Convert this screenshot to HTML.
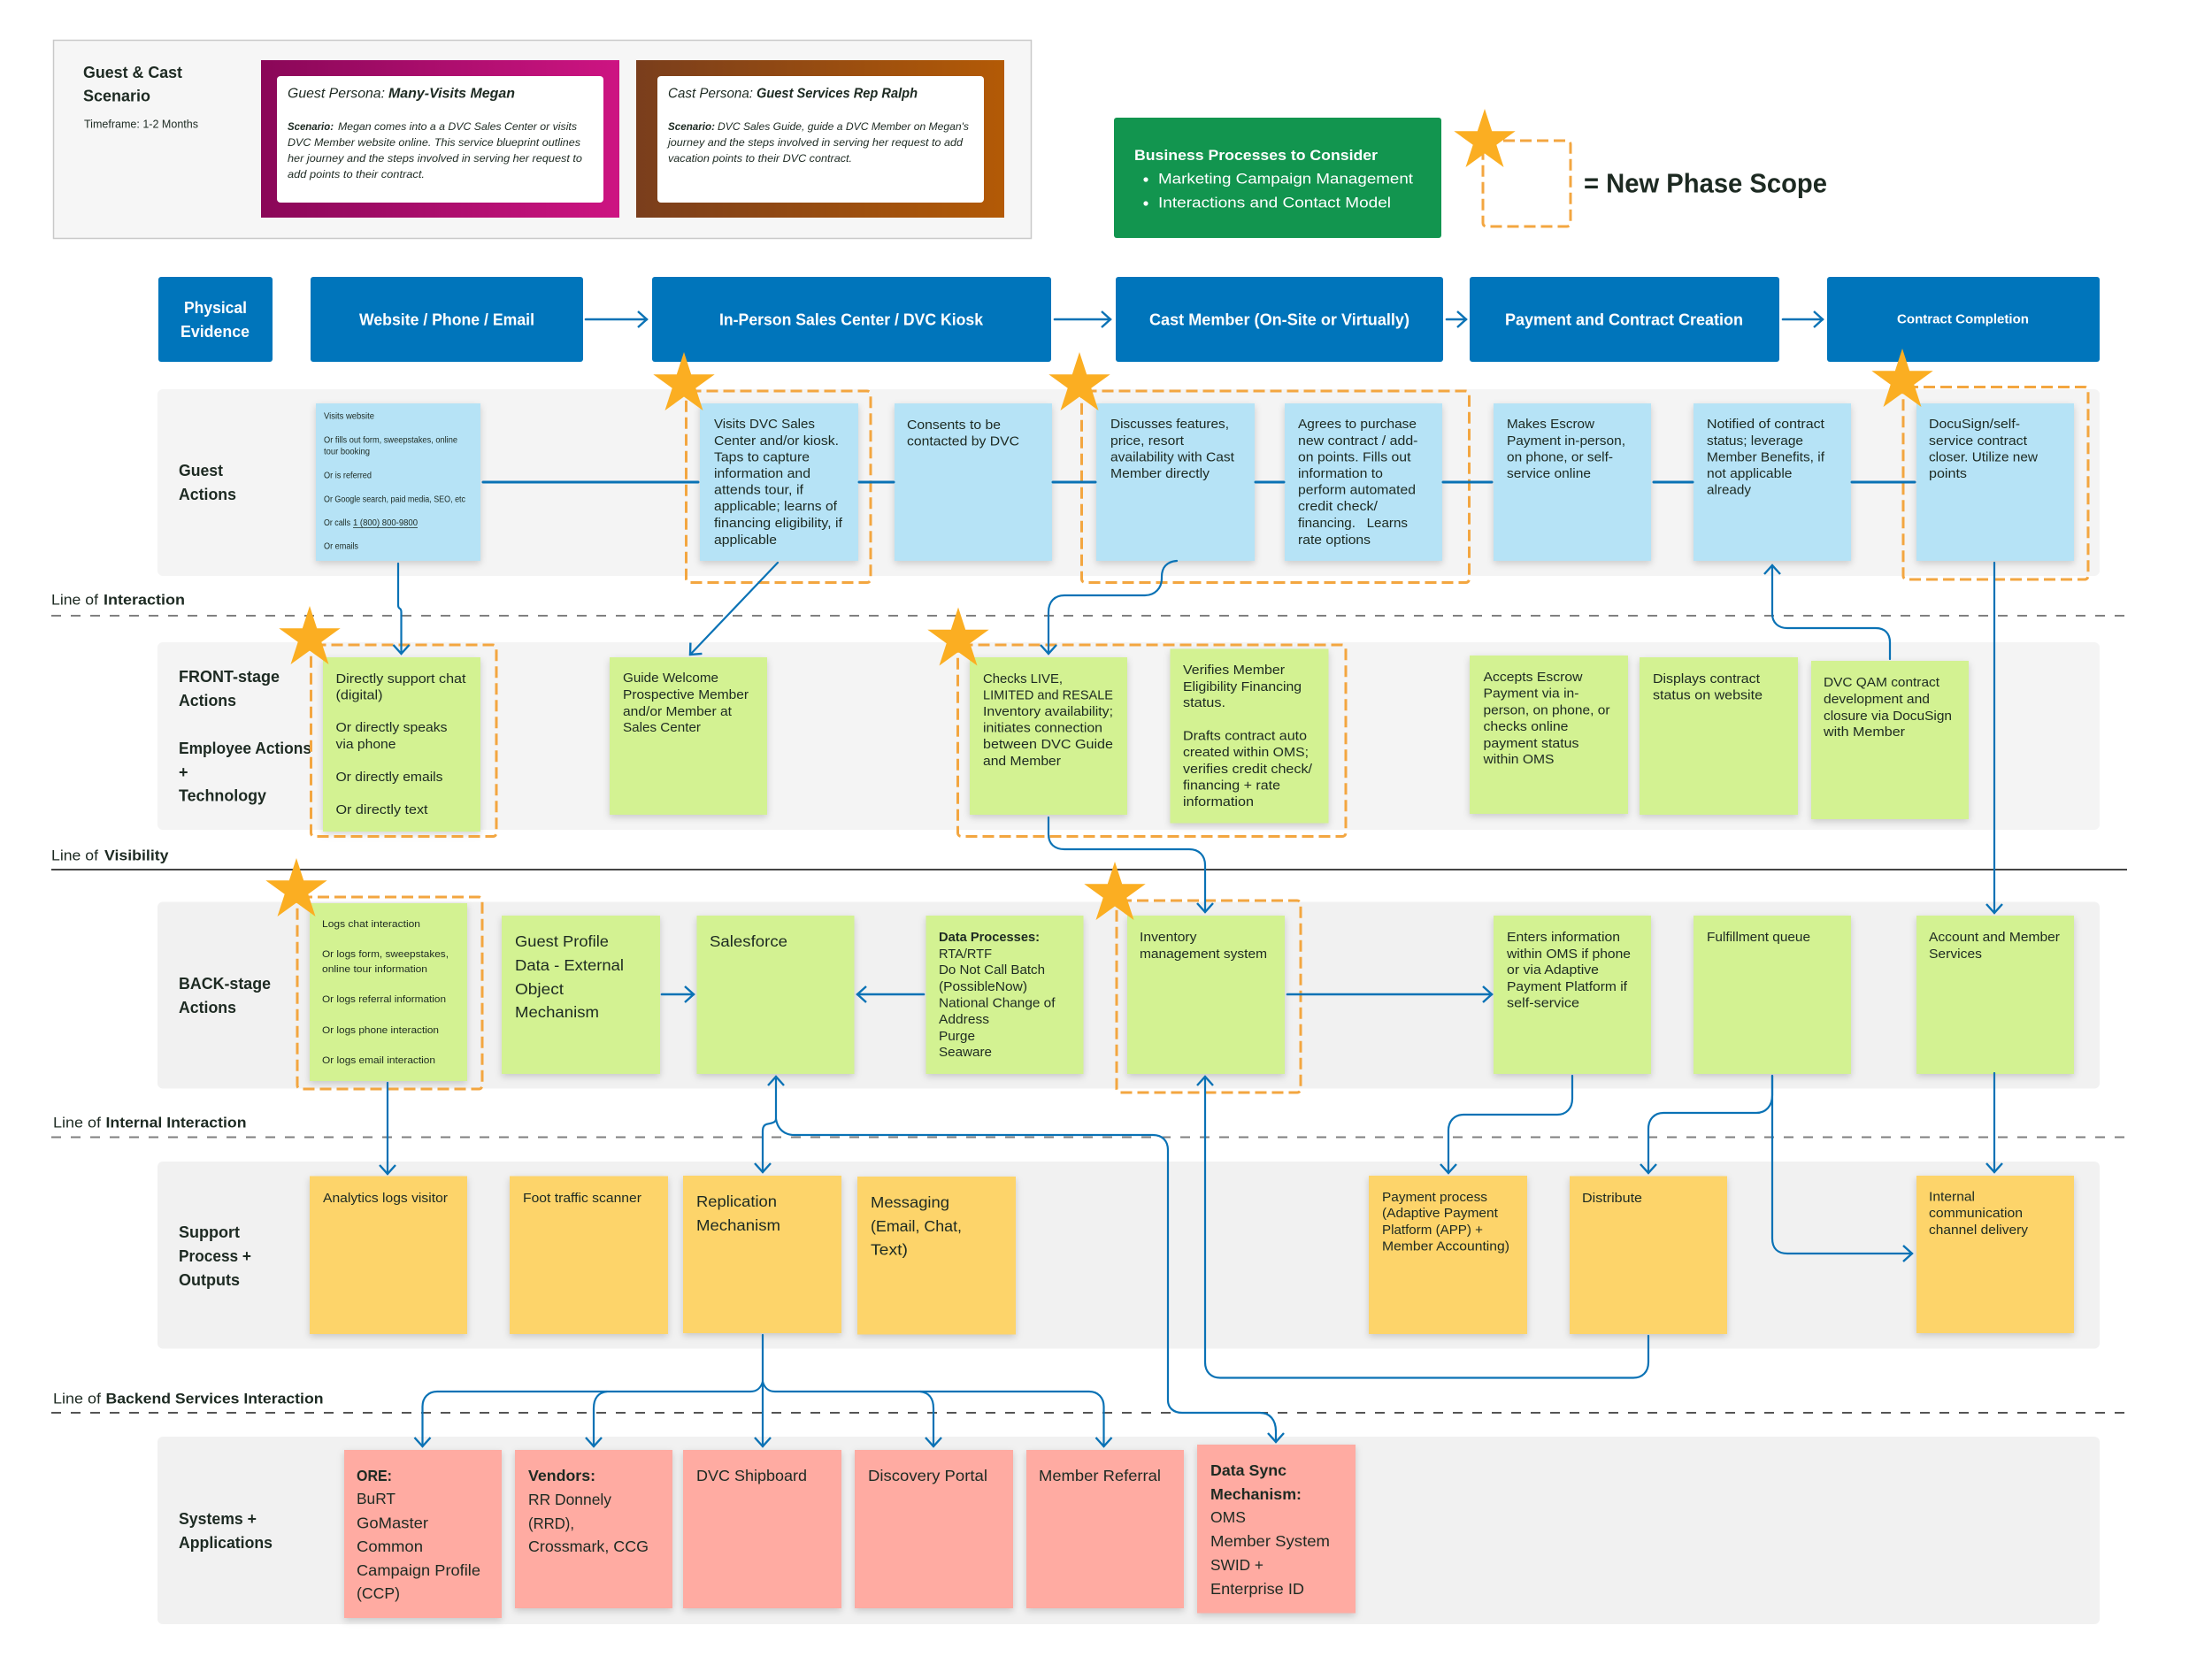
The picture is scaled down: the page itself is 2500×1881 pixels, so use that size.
<!DOCTYPE html>
<html><head><meta charset="utf-8"><title>Service Blueprint</title>
<style>
html,body{margin:0;padding:0;background:#fff}
svg{display:block}
text{font-family:"Liberation Sans",sans-serif;dominant-baseline:central;fill:#1d2a22}
.b{font-weight:700}
.w text{fill:#fff}
.s{filter:drop-shadow(0 3px 4px rgba(0,0,0,.17))}
.c path{fill:none;stroke:#0a72b5;stroke-width:2.2;stroke-linecap:round}
.d{fill:none;stroke:#f3a640;stroke-width:3;stroke-dasharray:13 6}
.g{stroke:#808080;stroke-width:2;stroke-dasharray:11 11}
</style></head><body>
<svg xmlns="http://www.w3.org/2000/svg" width="2500" height="1881" viewBox="0 0 2500 1881" lengthAdjust="spacingAndGlyphs">
<defs>
<linearGradient id="p1" x1="0" x2="1" y1="0" y2="0"><stop offset="0" stop-color="#8a0758"/><stop offset="1" stop-color="#cd1482"/></linearGradient>
<linearGradient id="p2" x1="0" x2="1" y1="0" y2="0"><stop offset="0" stop-color="#7a3e1c"/><stop offset="1" stop-color="#b35a06"/></linearGradient>
<marker id="a" markerUnits="userSpaceOnUse" markerWidth="24" markerHeight="24" refX="12" refY="12" orient="auto" overflow="visible"><path d="M2,3 L12,12 L2,21" fill="none" stroke="#0a72b5" stroke-width="2.4"/></marker>
<polygon id="star" fill="#fbae22" points="0,-36.5 8.2,-11.3 34.7,-11.3 13.3,4.3 21.5,29.5 0,14 -21.5,29.5 -13.3,4.3 -34.7,-11.3 -8.2,-11.3"/>
</defs>

<!-- top panel -->
<rect x="60.5" y="45.5" width="1105" height="224" fill="#f6f6f6" stroke="#c9c9c9" stroke-width="1.5"/>
<g font-size="18" class="b">
<text class="b" x="94" y="82" textLength="112" lengthAdjust="spacingAndGlyphs">Guest &amp; Cast</text>
<text class="b" x="94" y="108.5" textLength="76" lengthAdjust="spacingAndGlyphs">Scenario</text>
</g>
<text x="95" y="140" font-size="13" textLength="129" lengthAdjust="spacingAndGlyphs">Timeframe: 1-2 Months</text>
<rect x="295" y="68" width="405" height="178" fill="url(#p1)"/>
<rect x="313" y="86" width="369" height="143" rx="4" fill="#fff"/>
<rect x="719" y="68" width="416" height="178" fill="url(#p2)"/>
<rect x="743" y="86" width="369" height="143" rx="4" fill="#fff"/>
<g font-style="italic" font-size="16">
<text x="325" y="106" textLength="110" lengthAdjust="spacingAndGlyphs" fill="#333">Guest Persona:</text>
<text class="b" x="439" y="106" textLength="143" lengthAdjust="spacingAndGlyphs">Many-Visits Megan</text>
<text x="755" y="106" textLength="96" lengthAdjust="spacingAndGlyphs" fill="#333">Cast Persona:</text>
<text class="b" x="855" y="106" textLength="182" lengthAdjust="spacingAndGlyphs">Guest Services Rep Ralph</text>
</g>
<g font-style="italic" font-size="12">
<text class="b" x="325" y="143" textLength="52" lengthAdjust="spacingAndGlyphs">Scenario:</text>
<text x="382" y="143" textLength="270" lengthAdjust="spacingAndGlyphs">Megan comes into a a DVC Sales Center or visits</text>
<text x="325" y="161" textLength="331" lengthAdjust="spacingAndGlyphs">DVC Member website online. This service blueprint outlines</text>
<text x="325" y="179" textLength="333" lengthAdjust="spacingAndGlyphs">her journey and the steps involved  in serving her request to</text>
<text x="325" y="197" textLength="155" lengthAdjust="spacingAndGlyphs">add points to their contract.</text>
<text class="b" x="755" y="143" textLength="53" lengthAdjust="spacingAndGlyphs">Scenario:</text>
<text x="811" y="143" textLength="284" lengthAdjust="spacingAndGlyphs">DVC Sales Guide, guide a DVC Member on Megan's</text>
<text x="755" y="161" textLength="333" lengthAdjust="spacingAndGlyphs">journey and the steps involved in serving her request to add</text>
<text x="755" y="179" textLength="208" lengthAdjust="spacingAndGlyphs">vacation points to their DVC contract.</text>
</g>

<!-- business processes -->
<rect x="1259" y="133" width="370" height="136" rx="3" fill="#12954f"/>
<g class="w" font-size="17">
<text class="b" x="1282" y="175.5" textLength="275" lengthAdjust="spacingAndGlyphs">Business Processes to Consider</text>
<text x="1309" y="202" textLength="288" lengthAdjust="spacingAndGlyphs">Marketing Campaign Management</text>
<text x="1309" y="229" textLength="263" lengthAdjust="spacingAndGlyphs">Interactions and Contact Model</text>
</g>
<circle cx="1295" cy="203" r="2.6" fill="#fff"/><circle cx="1295" cy="230" r="2.6" fill="#fff"/>
<rect class="d" x="1676" y="159" width="99" height="97" rx="4"/>
<use href="#star" x="1678" y="159.5"/>
<text class="b" x="1790" y="207" font-size="31" textLength="275" lengthAdjust="spacingAndGlyphs" fill="#1a1a1a">= New Phase Scope</text>

<!-- header boxes -->
<g fill="#0075bb">
<rect x="179" y="313" width="129" height="96" rx="3"/>
<rect x="351" y="313" width="308" height="96" rx="3"/>
<rect x="737" y="313" width="451" height="96" rx="3"/>
<rect x="1261" y="313" width="370" height="96" rx="3"/>
<rect x="1661" y="313" width="350" height="96" rx="3"/>
<rect x="2065" y="313" width="308" height="96" rx="3"/>
</g>
<g class="w" font-size="18">
<text class="b" x="208" y="348" textLength="71" lengthAdjust="spacingAndGlyphs">Physical</text>
<text class="b" x="204" y="375" textLength="78" lengthAdjust="spacingAndGlyphs">Evidence</text>
<text class="b" x="406" y="361.5" textLength="198" lengthAdjust="spacingAndGlyphs">Website / Phone / Email</text>
<text class="b" x="813" y="361.5" textLength="298" lengthAdjust="spacingAndGlyphs">In-Person Sales Center / DVC Kiosk</text>
<text class="b" x="1299" y="361.5" textLength="294" lengthAdjust="spacingAndGlyphs">Cast Member (On-Site or Virtually)</text>
<text class="b" x="1701" y="361.5" textLength="269" lengthAdjust="spacingAndGlyphs">Payment and Contract Creation</text>
<text class="b" x="2144" y="361.5" font-size="14.5" textLength="149" lengthAdjust="spacingAndGlyphs">Contract Completion</text>
</g>

<!-- bands -->
<g fill="#f4f4f4">
<rect x="178" y="440" width="2195" height="211" rx="6"/>
<rect x="178" y="726" width="2195" height="212" rx="6"/>
</g>
<g fill="#f1f1f1">
<rect x="178" y="1019.5" width="2195" height="211" rx="6"/>
<rect x="178" y="1313" width="2195" height="211.5" rx="6"/>
<rect x="178" y="1624" width="2195" height="212" rx="6"/>
</g>

<!-- lines -->
<line class="g" x1="58" x2="2404" y1="696" y2="696"/>
<line x1="58" x2="2404" y1="983" y2="983" stroke="#444" stroke-width="2"/>
<line class="g" x1="58" x2="2404" y1="1285.5" y2="1285.5"/>
<line class="g" x1="58" x2="2404" y1="1597" y2="1597" style="stroke:#555"/>
<g font-size="17">
<text x="58" y="678" textLength="53" lengthAdjust="spacingAndGlyphs" fill="#333">Line of</text>
<text class="b" x="117" y="678" textLength="92" lengthAdjust="spacingAndGlyphs">Interaction</text>
<text x="58" y="967" textLength="53" lengthAdjust="spacingAndGlyphs" fill="#333">Line of</text>
<text class="b" x="118" y="967" textLength="72.5" lengthAdjust="spacingAndGlyphs">Visibility</text>
<text x="60" y="1269" textLength="54" lengthAdjust="spacingAndGlyphs" fill="#333">Line of</text>
<text class="b" x="119.5" y="1269" textLength="159" lengthAdjust="spacingAndGlyphs">Internal Interaction</text>
<text x="60" y="1581" textLength="54" lengthAdjust="spacingAndGlyphs" fill="#333">Line of</text>
<text class="b" x="119.5" y="1581" textLength="246" lengthAdjust="spacingAndGlyphs">Backend Services Interaction</text>
</g>

<!-- row labels -->
<g font-size="18">
<text class="b" x="202" y="532" textLength="50" lengthAdjust="spacingAndGlyphs">Guest</text>
<text class="b" x="202" y="559" textLength="65" lengthAdjust="spacingAndGlyphs">Actions</text>
<text class="b" x="202" y="765" textLength="114" lengthAdjust="spacingAndGlyphs">FRONT-stage</text>
<text class="b" x="202" y="792" textLength="65" lengthAdjust="spacingAndGlyphs">Actions</text>
<text class="b" x="202" y="846" textLength="150" lengthAdjust="spacingAndGlyphs">Employee Actions</text>
<text class="b" x="202" y="873">+</text>
<text class="b" x="202" y="899.5" textLength="99" lengthAdjust="spacingAndGlyphs">Technology</text>
<text class="b" x="202" y="1112" textLength="104" lengthAdjust="spacingAndGlyphs">BACK-stage</text>
<text class="b" x="202" y="1139" textLength="65" lengthAdjust="spacingAndGlyphs">Actions</text>
<text class="b" x="202" y="1393" textLength="69" lengthAdjust="spacingAndGlyphs">Support</text>
<text class="b" x="202" y="1420" textLength="82" lengthAdjust="spacingAndGlyphs">Process +</text>
<text class="b" x="202" y="1447" textLength="69" lengthAdjust="spacingAndGlyphs">Outputs</text>
<text class="b" x="202" y="1717" textLength="88" lengthAdjust="spacingAndGlyphs">Systems +</text>
<text class="b" x="202" y="1744" textLength="106" lengthAdjust="spacingAndGlyphs">Applications</text>
</g>

<!-- stickies -->
<g class="s" fill="#b6e3f6">
<rect x="357" y="456" width="186" height="178"/>
<rect x="791" y="456" width="179" height="178"/>
<rect x="1011" y="456" width="178" height="178"/>
<rect x="1239" y="456" width="179" height="178"/>
<rect x="1452" y="456" width="178" height="178"/>
<rect x="1688" y="456" width="178" height="178"/>
<rect x="1914" y="456" width="178" height="178"/>
<rect x="2166" y="456" width="178" height="178"/>
</g>
<g class="s" fill="#d3f292">
<rect x="365" y="743" width="178" height="197"/>
<rect x="689" y="743" width="178" height="178"/>
<rect x="1096" y="743" width="178" height="178"/>
<rect x="1322.5" y="733.5" width="179" height="197"/>
<rect x="1661" y="741" width="179" height="179"/>
<rect x="1853" y="743" width="179" height="178"/>
<rect x="2047" y="747" width="178" height="179"/>
<rect x="350" y="1021" width="178" height="201"/>
<rect x="567" y="1035" width="179" height="179"/>
<rect x="787.5" y="1035" width="178" height="179"/>
<rect x="1046.5" y="1035" width="178" height="179"/>
<rect x="1274" y="1035" width="178" height="179"/>
<rect x="1688" y="1035" width="178" height="179"/>
<rect x="1914" y="1035" width="178" height="179"/>
<rect x="2166" y="1035" width="178" height="179"/>
</g>
<g class="s" fill="#fdd46a">
<rect x="350" y="1329.5" width="178" height="178.5"/>
<rect x="576" y="1329.5" width="179" height="178.5"/>
<rect x="772" y="1329" width="179" height="178"/>
<rect x="969" y="1330" width="179" height="178.5"/>
<rect x="1547" y="1329" width="179" height="179"/>
<rect x="1774" y="1329.5" width="178" height="178.5"/>
<rect x="2166" y="1329" width="178" height="178"/>
</g>
<g class="s" fill="#ffaba2">
<rect x="389" y="1639" width="178" height="190"/>
<rect x="582" y="1639" width="178" height="179"/>
<rect x="772" y="1639" width="179" height="179"/>
<rect x="966" y="1639" width="179" height="179"/>
<rect x="1160" y="1639" width="178" height="179"/>
<rect x="1353" y="1633" width="179" height="190.5"/>
</g>

<!-- sticky text: small -->
<g font-size="10">
<text x="366" y="471" textLength="57" lengthAdjust="spacingAndGlyphs">Visits website</text>
<text x="366" y="498" textLength="151" lengthAdjust="spacingAndGlyphs">Or fills out form, sweepstakes, online</text>
<text x="366" y="511" textLength="52" lengthAdjust="spacingAndGlyphs">tour booking</text>
<text x="366" y="538" textLength="54" lengthAdjust="spacingAndGlyphs">Or is referred</text>
<text x="366" y="565" textLength="160" lengthAdjust="spacingAndGlyphs">Or Google search, paid media, SEO, etc</text>
<text x="366" y="591.5" textLength="30" lengthAdjust="spacingAndGlyphs">Or calls</text>
<text x="399" y="591.5" textLength="73" lengthAdjust="spacingAndGlyphs">1 (800) 800-9800</text>
<text x="366" y="618" textLength="39" lengthAdjust="spacingAndGlyphs">Or emails</text>
</g>
<line x1="399" x2="472" y1="596.5" y2="596.5" stroke="#1d2a22" stroke-width=".8"/>
<g font-size="11">
<text x="364" y="1045" textLength="111" lengthAdjust="spacingAndGlyphs">Logs chat interaction</text>
<text x="364" y="1079" textLength="143" lengthAdjust="spacingAndGlyphs">Or logs form, sweepstakes,</text>
<text x="364" y="1096" textLength="119" lengthAdjust="spacingAndGlyphs">online tour information</text>
<text x="364" y="1130" textLength="140" lengthAdjust="spacingAndGlyphs">Or logs referral information</text>
<text x="364" y="1165" textLength="132" lengthAdjust="spacingAndGlyphs">Or logs phone interaction</text>
<text x="364" y="1199" textLength="128" lengthAdjust="spacingAndGlyphs">Or logs email interaction</text>
</g>

<!-- sticky text: regular -->
<g font-size="14.5">
<text x="807" y="480" textLength="114" lengthAdjust="spacingAndGlyphs">Visits DVC Sales</text>
<text x="807" y="499" textLength="141" lengthAdjust="spacingAndGlyphs">Center and/or kiosk.</text>
<text x="807" y="517.5" textLength="108" lengthAdjust="spacingAndGlyphs">Taps to capture</text>
<text x="807" y="536" textLength="109" lengthAdjust="spacingAndGlyphs">information and</text>
<text x="807" y="554.5" textLength="101" lengthAdjust="spacingAndGlyphs">attends tour, if</text>
<text x="807" y="573" textLength="139" lengthAdjust="spacingAndGlyphs">applicable; learns of</text>
<text x="807" y="592" textLength="145" lengthAdjust="spacingAndGlyphs">financing eligibility, if</text>
<text x="807" y="611" textLength="71" lengthAdjust="spacingAndGlyphs">applicable</text>

<text x="1025" y="481" textLength="106" lengthAdjust="spacingAndGlyphs">Consents to be</text>
<text x="1025" y="499.5" textLength="127" lengthAdjust="spacingAndGlyphs">contacted by DVC</text>

<text x="1255" y="480" textLength="134" lengthAdjust="spacingAndGlyphs">Discusses features,</text>
<text x="1255" y="499" textLength="83" lengthAdjust="spacingAndGlyphs">price, resort</text>
<text x="1255" y="517.5" textLength="140" lengthAdjust="spacingAndGlyphs">availability with Cast</text>
<text x="1255" y="536" textLength="112" lengthAdjust="spacingAndGlyphs">Member directly</text>

<text x="1467" y="480" textLength="134" lengthAdjust="spacingAndGlyphs">Agrees to purchase</text>
<text x="1467" y="499" textLength="135.5" lengthAdjust="spacingAndGlyphs">new contract / add-</text>
<text x="1467" y="517.5" textLength="127.5" lengthAdjust="spacingAndGlyphs">on points.  Fills out</text>
<text x="1467" y="536" textLength="96" lengthAdjust="spacingAndGlyphs">information to</text>
<text x="1467" y="554.5" textLength="133" lengthAdjust="spacingAndGlyphs">perform automated</text>
<text x="1467" y="573" textLength="90" lengthAdjust="spacingAndGlyphs">credit check/</text>
<text x="1467" y="592" textLength="124" lengthAdjust="spacingAndGlyphs" xml:space="preserve">financing.   Learns</text>
<text x="1467" y="611" textLength="82" lengthAdjust="spacingAndGlyphs">rate options</text>

<text x="1703" y="480" textLength="99" lengthAdjust="spacingAndGlyphs">Makes Escrow</text>
<text x="1703" y="499" textLength="134" lengthAdjust="spacingAndGlyphs">Payment in-person,</text>
<text x="1703" y="517.5" textLength="120" lengthAdjust="spacingAndGlyphs">on phone, or self-</text>
<text x="1703" y="536" textLength="95" lengthAdjust="spacingAndGlyphs">service online</text>

<text x="1929" y="480" textLength="133" lengthAdjust="spacingAndGlyphs">Notified of contract</text>
<text x="1929" y="499" textLength="109" lengthAdjust="spacingAndGlyphs">status; leverage</text>
<text x="1929" y="517.5" textLength="133" lengthAdjust="spacingAndGlyphs">Member Benefits, if</text>
<text x="1929" y="536" textLength="96.5" lengthAdjust="spacingAndGlyphs">not applicable</text>
<text x="1929" y="554.5" textLength="50" lengthAdjust="spacingAndGlyphs">already</text>

<text x="2180" y="480" textLength="103" lengthAdjust="spacingAndGlyphs">DocuSign/self-</text>
<text x="2180" y="499" textLength="111" lengthAdjust="spacingAndGlyphs">service contract</text>
<text x="2180" y="517.5" textLength="123" lengthAdjust="spacingAndGlyphs">closer. Utilize new</text>
<text x="2180" y="536" textLength="43" lengthAdjust="spacingAndGlyphs">points</text>

<text x="379.5" y="768" textLength="147" lengthAdjust="spacingAndGlyphs">Directly support chat</text>
<text x="379.5" y="786.5" textLength="53" lengthAdjust="spacingAndGlyphs">(digital)</text>
<text x="379.5" y="823" textLength="126" lengthAdjust="spacingAndGlyphs">Or directly speaks</text>
<text x="379.5" y="842" textLength="68" lengthAdjust="spacingAndGlyphs">via phone</text>
<text x="379.5" y="879" textLength="121" lengthAdjust="spacingAndGlyphs">Or directly emails</text>
<text x="379.5" y="916" textLength="104" lengthAdjust="spacingAndGlyphs">Or directly text</text>

<text x="704" y="767" textLength="108" lengthAdjust="spacingAndGlyphs">Guide Welcome</text>
<text x="704" y="786" textLength="142" lengthAdjust="spacingAndGlyphs">Prospective Member</text>
<text x="704" y="805" textLength="123" lengthAdjust="spacingAndGlyphs">and/or Member at</text>
<text x="704" y="823" textLength="88" lengthAdjust="spacingAndGlyphs">Sales Center</text>

<text x="1111" y="768" textLength="90" lengthAdjust="spacingAndGlyphs">Checks LIVE,</text>
<text x="1111" y="786.5" textLength="147" lengthAdjust="spacingAndGlyphs">LIMITED and RESALE</text>
<text x="1111" y="805" textLength="147" lengthAdjust="spacingAndGlyphs">Inventory availability;</text>
<text x="1111" y="823.6" textLength="135" lengthAdjust="spacingAndGlyphs">initiates connection</text>
<text x="1111" y="842" textLength="147" lengthAdjust="spacingAndGlyphs">between DVC Guide</text>
<text x="1111" y="861" textLength="88" lengthAdjust="spacingAndGlyphs">and Member</text>

<text x="1337" y="758" textLength="115" lengthAdjust="spacingAndGlyphs">Verifies Member</text>
<text x="1337" y="777" textLength="134" lengthAdjust="spacingAndGlyphs">Eligibility Financing</text>
<text x="1337" y="795" textLength="48" lengthAdjust="spacingAndGlyphs">status.</text>
<text x="1337" y="832.6" textLength="140" lengthAdjust="spacingAndGlyphs">Drafts contract auto</text>
<text x="1337" y="851" textLength="142" lengthAdjust="spacingAndGlyphs">created within OMS;</text>
<text x="1337" y="870" textLength="146" lengthAdjust="spacingAndGlyphs">verifies credit check/</text>
<text x="1337" y="888.5" textLength="110" lengthAdjust="spacingAndGlyphs">financing + rate</text>
<text x="1337" y="907" textLength="80" lengthAdjust="spacingAndGlyphs">information</text>

<text x="1676.5" y="766" textLength="112" lengthAdjust="spacingAndGlyphs">Accepts Escrow</text>
<text x="1676.5" y="784.5" textLength="108" lengthAdjust="spacingAndGlyphs">Payment via in-</text>
<text x="1676.5" y="803.6" textLength="143" lengthAdjust="spacingAndGlyphs">person, on phone, or</text>
<text x="1676.5" y="822" textLength="96" lengthAdjust="spacingAndGlyphs">checks online</text>
<text x="1676.5" y="841" textLength="108" lengthAdjust="spacingAndGlyphs">payment status</text>
<text x="1676.5" y="859" textLength="80" lengthAdjust="spacingAndGlyphs">within OMS</text>

<text x="1868" y="768" textLength="121" lengthAdjust="spacingAndGlyphs">Displays contract</text>
<text x="1868" y="786.5" textLength="124" lengthAdjust="spacingAndGlyphs">status on website</text>

<text x="2061" y="772" textLength="131" lengthAdjust="spacingAndGlyphs">DVC QAM contract</text>
<text x="2061" y="791" textLength="120" lengthAdjust="spacingAndGlyphs">development and</text>
<text x="2061" y="810" textLength="145" lengthAdjust="spacingAndGlyphs">closure via DocuSign</text>
<text x="2061" y="828" textLength="92" lengthAdjust="spacingAndGlyphs">with Member</text>

<text class="b" x="1061" y="1060" textLength="114" lengthAdjust="spacingAndGlyphs">Data Processes:</text>
<text x="1061" y="1079" textLength="60" lengthAdjust="spacingAndGlyphs">RTA/RTF</text>
<text x="1061" y="1097" textLength="120" lengthAdjust="spacingAndGlyphs">Do Not Call Batch</text>
<text x="1061" y="1116" textLength="100" lengthAdjust="spacingAndGlyphs">(PossibleNow)</text>
<text x="1061" y="1134.5" textLength="131.5" lengthAdjust="spacingAndGlyphs">National Change of</text>
<text x="1061" y="1153" textLength="57" lengthAdjust="spacingAndGlyphs">Address</text>
<text x="1061" y="1172" textLength="41" lengthAdjust="spacingAndGlyphs">Purge</text>
<text x="1061" y="1190" textLength="60" lengthAdjust="spacingAndGlyphs">Seaware</text>

<text x="1288" y="1060" textLength="64.5" lengthAdjust="spacingAndGlyphs">Inventory</text>
<text x="1288" y="1079" textLength="144" lengthAdjust="spacingAndGlyphs">management system</text>

<text x="1703" y="1060" textLength="128" lengthAdjust="spacingAndGlyphs">Enters information</text>
<text x="1703" y="1079" textLength="140" lengthAdjust="spacingAndGlyphs">within OMS if phone</text>
<text x="1703" y="1097" textLength="104" lengthAdjust="spacingAndGlyphs">or via Adaptive</text>
<text x="1703" y="1116" textLength="136" lengthAdjust="spacingAndGlyphs">Payment Platform if</text>
<text x="1703" y="1134.5" textLength="82" lengthAdjust="spacingAndGlyphs">self-service</text>

<text x="1929" y="1060" textLength="117" lengthAdjust="spacingAndGlyphs">Fulfillment queue</text>

<text x="2180" y="1060" textLength="148" lengthAdjust="spacingAndGlyphs">Account and Member</text>
<text x="2180" y="1079" textLength="60" lengthAdjust="spacingAndGlyphs">Services</text>

<text x="365" y="1355" textLength="141" lengthAdjust="spacingAndGlyphs">Analytics logs visitor</text>
<text x="591" y="1355" textLength="134" lengthAdjust="spacingAndGlyphs">Foot traffic scanner</text>

<text x="1562" y="1354" textLength="119" lengthAdjust="spacingAndGlyphs">Payment process</text>
<text x="1562" y="1372" textLength="131" lengthAdjust="spacingAndGlyphs">(Adaptive Payment</text>
<text x="1562" y="1391" textLength="114" lengthAdjust="spacingAndGlyphs">Platform (APP) +</text>
<text x="1562" y="1409.6" textLength="144" lengthAdjust="spacingAndGlyphs">Member Accounting)</text>

<text x="1788" y="1355" textLength="68" lengthAdjust="spacingAndGlyphs">Distribute</text>

<text x="2180" y="1353.6" textLength="52" lengthAdjust="spacingAndGlyphs">Internal</text>
<text x="2180" y="1372" textLength="106" lengthAdjust="spacingAndGlyphs">communication</text>
<text x="2180" y="1391" textLength="112" lengthAdjust="spacingAndGlyphs">channel delivery</text>
</g>

<!-- sticky text: large -->
<g font-size="17.5">
<text x="582" y="1064" textLength="106" lengthAdjust="spacingAndGlyphs">Guest Profile</text>
<text x="582" y="1091" textLength="123" lengthAdjust="spacingAndGlyphs">Data - External</text>
<text x="582" y="1118" textLength="55" lengthAdjust="spacingAndGlyphs">Object</text>
<text x="582" y="1144" textLength="95" lengthAdjust="spacingAndGlyphs">Mechanism</text>
<text x="802" y="1064" textLength="88" lengthAdjust="spacingAndGlyphs">Salesforce</text>
<text x="787" y="1358" textLength="91" lengthAdjust="spacingAndGlyphs">Replication</text>
<text x="787" y="1385" textLength="95" lengthAdjust="spacingAndGlyphs">Mechanism</text>
<text x="984" y="1359" textLength="89" lengthAdjust="spacingAndGlyphs">Messaging</text>
<text x="984" y="1386" textLength="103" lengthAdjust="spacingAndGlyphs">(Email, Chat,</text>
<text x="984" y="1412.6" textLength="42" lengthAdjust="spacingAndGlyphs">Text)</text>
<text class="b" x="403" y="1668" textLength="40" lengthAdjust="spacingAndGlyphs">ORE:</text>
<text x="403" y="1694" textLength="44" lengthAdjust="spacingAndGlyphs">BuRT</text>
<text x="403" y="1721.6" textLength="81" lengthAdjust="spacingAndGlyphs">GoMaster</text>
<text x="403" y="1748" textLength="75" lengthAdjust="spacingAndGlyphs">Common</text>
<text x="403" y="1775" textLength="140" lengthAdjust="spacingAndGlyphs">Campaign Profile</text>
<text x="403" y="1801" textLength="49" lengthAdjust="spacingAndGlyphs">(CCP)</text>
<text class="b" x="597" y="1668" textLength="76" lengthAdjust="spacingAndGlyphs">Vendors:</text>
<text x="597" y="1695" textLength="94" lengthAdjust="spacingAndGlyphs">RR Donnely</text>
<text x="597" y="1722" textLength="52" lengthAdjust="spacingAndGlyphs">(RRD),</text>
<text x="597" y="1748" textLength="136" lengthAdjust="spacingAndGlyphs">Crossmark, CCG</text>
<text x="787" y="1668" textLength="125" lengthAdjust="spacingAndGlyphs">DVC Shipboard</text>
<text x="981" y="1668" textLength="135" lengthAdjust="spacingAndGlyphs">Discovery Portal</text>
<text x="1174" y="1668" textLength="138" lengthAdjust="spacingAndGlyphs">Member Referral</text>
<text class="b" x="1368" y="1662" textLength="86" lengthAdjust="spacingAndGlyphs">Data Sync</text>
<text class="b" x="1368" y="1689" textLength="103" lengthAdjust="spacingAndGlyphs">Mechanism:</text>
<text x="1368" y="1715" textLength="40" lengthAdjust="spacingAndGlyphs">OMS</text>
<text x="1368" y="1742" textLength="135" lengthAdjust="spacingAndGlyphs">Member System</text>
<text x="1368" y="1769" textLength="60" lengthAdjust="spacingAndGlyphs">SWID +</text>
<text x="1368" y="1796" textLength="106" lengthAdjust="spacingAndGlyphs">Enterprise ID</text>
</g>

<!-- dashed scope boxes -->
<rect class="d" x="775.5" y="442" width="208.5" height="216.5" rx="4"/>
<rect class="d" x="1222.5" y="442" width="438" height="216.5" rx="4"/>
<rect class="d" x="2151" y="437.5" width="209" height="217.5" rx="4"/>
<rect class="d" x="351.5" y="729" width="209.5" height="216.5" rx="4"/>
<rect class="d" x="1082.5" y="729" width="438.5" height="216.5" rx="4"/>
<rect class="d" x="336" y="1014" width="209" height="217" rx="4"/>
<rect class="d" x="1262" y="1018" width="208" height="217" rx="4"/>

<!-- connectors -->
<g class="c">
<path d="M662,361 H731" marker-end="url(#a)" style="stroke-width:2.6"/>
<path d="M1192,361 H1255" marker-end="url(#a)" style="stroke-width:2.6"/>
<path d="M1635,361 H1657" marker-end="url(#a)" style="stroke-width:2.6"/>
<path d="M2015,361 H2060" marker-end="url(#a)" style="stroke-width:2.6"/>

<path d="M546,545 H789 M971,545 H1010 M1190,545 H1238 M1419,545 H1451 M1631,545 H1686 M1869,545 H1913 M2093,545 H2164" style="stroke-width:3"/>

<path d="M450,637 V684 Q450,687 452,688 Q453.5,689 453.5,692 V739" marker-end="url(#a)"/>
<path d="M879,636 L780,740" marker-end="url(#a)"/>
<path d="M1330,634 C1318,635 1313,642 1313,652 V654 C1313,665 1305,673 1294,673 H1203 C1192,673 1185,680 1185,692 V739" marker-end="url(#a)"/>
<path d="M1185,924 V943 C1185,954 1192,960 1203,960 H1344 C1355,960 1362,967 1362,978 V1031" marker-end="url(#a)"/>
<path d="M2136,745 V726 C2136,716 2130,710 2120,710 H2020 C2010,710 2003,704 2003,694 V639" marker-end="url(#a)"/>
<path d="M2254,636 V1032" marker-end="url(#a)"/>
<path d="M2254,1213 V1325" marker-end="url(#a)"/>
<path d="M748,1124 H784" marker-end="url(#a)" style="stroke-width:2.6"/>
<path d="M1044,1124 H969" marker-end="url(#a)" style="stroke-width:2.6"/>
<path d="M1455,1124 H1686" marker-end="url(#a)" style="stroke-width:2.6"/>
<path d="M438,1224 V1327" marker-end="url(#a)"/>
<path d="M877,1265 V1217" marker-end="url(#a)"/>
<path d="M877,1265 C877,1270 868,1270 866,1271 C863,1272 862,1275 862,1279 V1325" marker-end="url(#a)"/>
<path d="M877,1265 C879,1277 887,1283 898,1283 H1303 C1314,1283 1320,1290 1320,1300 V1583 C1320,1591 1326,1597 1336,1597 H1424 C1435,1597 1442,1605 1442,1618 V1630" marker-end="url(#a)"/>
<path d="M1777,1216 V1242 C1777,1253 1770,1260 1760,1260 H1654 C1644,1260 1637,1267 1637,1278 V1326" marker-end="url(#a)"/>
<path d="M2003,1216 V1238 C2003,1250 1996,1258 1985,1258 H1880 C1870,1258 1863,1265 1863,1276 V1326" marker-end="url(#a)"/>
<path d="M2003,1216 V1400 C2003,1411 2009,1417 2020,1417 H2161" marker-end="url(#a)"/>
<path d="M1863,1510 V1540 C1863,1551 1856,1557.5 1846,1557.5 H1379 C1369,1557.5 1362,1551 1362,1540 V1217" marker-end="url(#a)"/>
<path d="M862,1509 V1635" marker-end="url(#a)"/>
<path d="M862,1562 C860,1569 855,1573 848,1573 H494 C484,1573 477.5,1580 477.5,1590 V1635" marker-end="url(#a)"/>
<path d="M686,1573 C677,1574 671,1580 671,1592 V1635" marker-end="url(#a)"/>
<path d="M862,1562 C864,1569 869,1573 876,1573 H1231 C1241,1573 1247.5,1580 1247.5,1590 V1635" marker-end="url(#a)"/>
<path d="M1040,1573 C1049,1574 1055,1580 1055,1592 V1635" marker-end="url(#a)"/>
</g>

<!-- stars -->
<use href="#star" x="773" y="434.5"/>
<use href="#star" x="1220" y="434.5"/>
<use href="#star" x="2150" y="430.5"/>
<use href="#star" x="350" y="721.5"/>
<use href="#star" x="1083" y="723"/>
<use href="#star" x="335" y="1006.5"/>
<use href="#star" x="1260" y="1010.5"/>
</svg>
</body></html>
